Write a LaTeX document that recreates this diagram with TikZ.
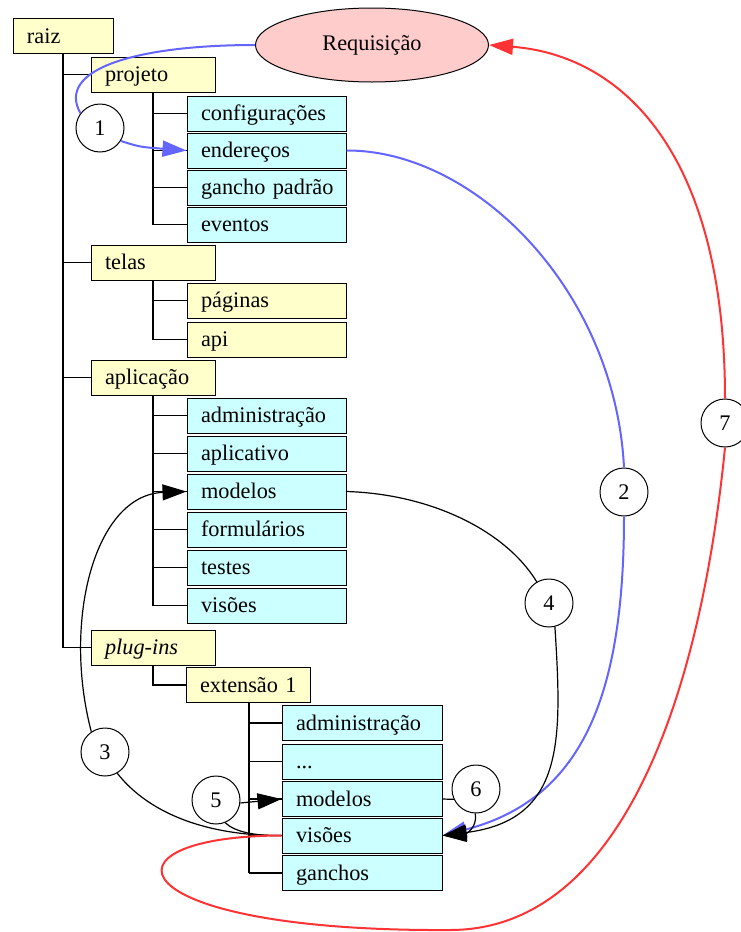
\documentclass[tikz,border=0pt]{standalone}
\usepackage{fontspec}
\setmainfont{Liberation Serif}
\usetikzlibrary{shapes.geometric,arrows.meta}
\definecolor{dirfill}{HTML}{FFFFCC}
\definecolor{filefill}{HTML}{CCFFFF}
\definecolor{reqfill}{HTML}{FFCCCC}
\definecolor{flowblue}{HTML}{6464FF}
\definecolor{flowred}{HTML}{FF3333}
\begin{document}
\begin{tikzpicture}[x=1pt,y=-1pt,
  font=\fontsize{22.3}{26}\selectfont,
  box/.style={draw=black, line width=1pt, rectangle, inner xsep=14pt, inner ysep=0pt,
    minimum height=35pt, align=left, text height=15pt, text depth=1pt},
  dir/.style={box, fill=dirfill},
  file/.style={box, fill=filefill},
  wa/.style={text width=72pt},
  wb/.style={text width=96pt},
  wc/.style={text width=131pt},
  wd/.style={text width=132pt},
  tree/.style={line width=1.8pt},
  num/.style={draw, circle, line width=1pt, minimum size=48pt, inner sep=0pt, fill=white},
  flowb/.style={draw=flowblue, line width=2pt},
  flowr/.style={draw=flowred, line width=2pt},
  flowk/.style={draw=black, line width=1.2pt},
  tipb/.style={-{Triangle[length=24pt,width=16pt]}},
]
\useasboundingbox (0,0) rectangle (741,932);

% directory tree
\node[dir,wa] (raiz) at (63,36) {raiz};
\node[dir,wb] (projeto) at (153,74.5) {projeto};
\node[file,wc] (config) at (266.5,113.5) {configurações};
\node[file,wc] (ender) at (266.5,150.5) {endereços};
\node[file,wc] (gancho) at (266.5,187.5) {gancho~padrão};
\node[file,wc] (eventos) at (266.5,224.5) {eventos};
\node[dir,wb] (telas) at (153,262.5) {telas};
\node[dir,wc] (paginas) at (266.5,300.5) {páginas};
\node[dir,wc] (api) at (266.5,339.5) {api};
\node[dir,wb] (aplic) at (153,377.5) {aplicação};
\node[file,wc] (admA) at (266.5,415.5) {administração};
\node[file,wc] (aplv) at (266.5,453.5) {aplicativo};
\node[file,wc] (modA) at (266.5,491.5) {modelos};
\node[file,wc] (form) at (266.5,529.5) {formulários};
\node[file,wc] (testes) at (266.5,567.5) {testes};
\node[file,wc] (visA) at (266.5,605.5) {visões};
\node[dir,wb] (plugins) at (153,647.5) {\textit{plug-ins}};
\node[dir,wb] (ext) at (248,685) {extensão~1};
\node[file,wd] (admB) at (362,723) {administração};
\node[file,wd] (dots) at (362,761.5) {...};
\node[file,wd] (modB) at (362,799) {modelos};
\node[file,wd] (visB) at (362,835.5) {visões};
\node[file,wd] (ganchos) at (362,873) {ganchos};

% tree connectors
\draw[tree] (raiz.south) -- (raiz.south |- plugins.west);
\foreach \n in {projeto,telas,aplic,plugins}
  \draw[tree] (raiz.south |- \n.west) -- (\n.west);
\draw[tree] (projeto.south) -- (projeto.south |- eventos.west);
\foreach \n in {config,ender,gancho,eventos}
  \draw[tree] (projeto.south |- \n.west) -- (\n.west);
\draw[tree] (telas.south) -- (telas.south |- api.west);
\foreach \n in {paginas,api}
  \draw[tree] (telas.south |- \n.west) -- (\n.west);
\draw[tree] (aplic.south) -- (aplic.south |- visA.west);
\foreach \n in {admA,aplv,modA,form,testes,visA}
  \draw[tree] (aplic.south |- \n.west) -- (\n.west);
\draw[tree] (plugins.south) -- (plugins.south |- ext.west) -- (ext.west);
\draw[tree] ([xshift=1pt]ext.south) -- ([xshift=1pt]ext.south |- ganchos.west);
\foreach \n in {admB,dots,modB,visB,ganchos}
  \draw[tree] ([xshift=1pt]ext.south |- \n.west) -- (\n.west);

% request and numbered steps
\node[ellipse, draw, line width=1pt, fill=reqfill, minimum width=233pt, minimum height=74pt, inner sep=0pt] (req) at (372,45) {Requisição};
\node[num] (c1) at (100,128) {1};
\node[num] (c2) at (624,492) {2};
\node[num] (c3) at (105,752) {3};
\node[num] (c4) at (549,603) {4};
\node[num] (c5) at (216,800) {5};
\node[num] (c6) at (476,789) {6};
\node[num] (c7) at (725,423) {7};

% steps 1 and 2 (blue)
\draw[flowb] (req.west) .. controls (140,45) and (55,68) .. (c1.143);
\draw[flowb, tipb] (c1.-32) .. controls (140,147) .. (ender.west);
\draw[flowb] (ender.east) .. controls (475,150) and (615,290) .. (c2.north);
\draw[flowb, tipb] (c2.south) .. controls (624,700) and (580,800) .. (visB.east);

% steps 3 to 6 (black)
\draw[flowk] (visB.west) .. controls (210,836) and (150,815) .. (c3.-60);
\draw[flowk, tipb] (c3.124) .. controls (62,620) and (95,495) .. (modA.west);
\draw[flowk] (modA.east) .. controls (430,494) and (505,530) .. (c4.120);
\draw[flowk, tipb] (c4.-76) .. controls (562,740) and (565,820) .. (visB.east);
\draw[flowk] (visB.west) .. controls (255,836) and (235,832) .. (c5.-68);
\draw[flowk, tipb] (c5.-7) -- (modB.west);
\draw[flowk] (modB.east) -- (c6.-155);
\draw[flowk, tipb] (c6.-92) .. controls (478,828) and (465,834) .. (visB.east);

% step 7 (red)
\draw[flowr] (visB.west) .. controls (90,836) and (115,932) .. (450,930)
  .. controls (620,930) and (700,700) .. (c7.south);
\draw[flowr, tipb] (c7.north) .. controls (725,150) and (620,55) .. (req.east);
\end{tikzpicture}
\end{document}
